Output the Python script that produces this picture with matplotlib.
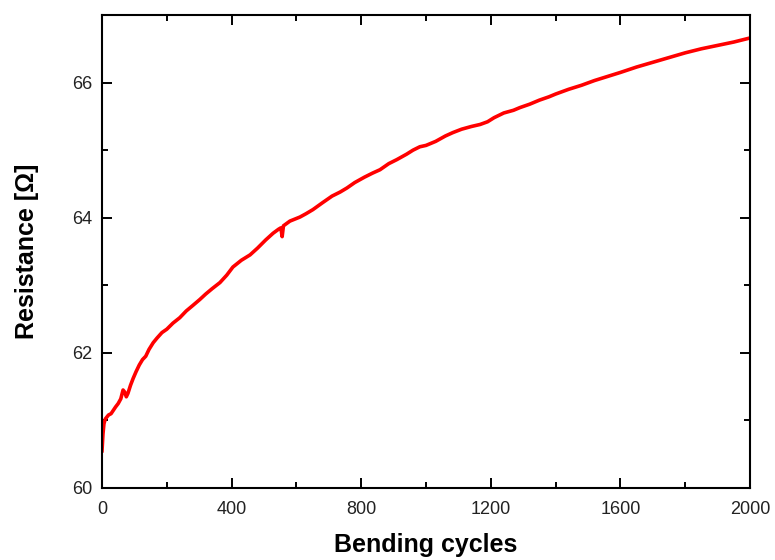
import matplotlib
matplotlib.use("Agg")
import matplotlib.pyplot as plt
from matplotlib.ticker import MultipleLocator

cycles = [0, 3, 6, 10, 15, 20, 28, 35, 42, 50, 58, 65, 70, 75, 80, 88, 96, 105, 115, 125,
          135, 145, 158, 170, 185, 200, 219, 240, 260, 280, 302, 320, 340, 364, 385, 404,
          430, 457, 480, 505, 528, 545, 552, 556, 560, 580, 611, 630, 651, 680, 710, 735,
          756, 780, 810, 835, 858, 885, 910, 940, 960, 981, 1000, 1030, 1060, 1083, 1110,
          1140, 1167, 1190, 1210, 1240, 1270, 1290, 1320, 1350, 1380, 1400, 1440, 1480,
          1520, 1560, 1600, 1650, 1700, 1750, 1800, 1850, 1900, 1950, 2000]
resistance = [60.55, 60.80, 60.95, 61.02, 61.05, 61.08, 61.10, 61.15, 61.20, 61.25, 61.32,
              61.45, 61.42, 61.35, 61.40, 61.52, 61.62, 61.72, 61.82, 61.90, 61.95, 62.05,
              62.15, 62.22, 62.30, 62.35, 62.44, 62.52, 62.62, 62.70, 62.79, 62.87, 62.95,
              63.04, 63.15, 63.27, 63.37, 63.45, 63.55, 63.67, 63.77, 63.83, 63.85, 63.72,
              63.88, 63.95, 64.01, 64.06, 64.12, 64.22, 64.32, 64.38, 64.44, 64.52, 64.60,
              64.66, 64.71, 64.80, 64.86, 64.94, 65.00, 65.05, 65.07, 65.13, 65.21, 65.26,
              65.31, 65.35, 65.38, 65.42, 65.48, 65.55, 65.59, 65.63, 65.68, 65.74, 65.79,
              65.83, 65.90, 65.96, 66.03, 66.09, 66.15, 66.23, 66.30, 66.37, 66.44, 66.50,
              66.55, 66.60, 66.66]

x_ticks = [0, 400, 800, 1200, 1600, 2000]
y_ticks = [60, 62, 64, 66]

plt.rcParams['font.family'] = ['Liberation Sans', 'DejaVu Sans']

fig = plt.figure(figsize=(7.75, 5.6), dpi=100)
ax = fig.add_axes([102/775, 1-488/560, (750-102)/775, (488-15)/560])

ax.plot(cycles, resistance, color='#ff0000', lw=2.6, solid_joinstyle='round')

ax.set_xlim(0, 2000)
ax.set_ylim(60, 67)
ax.set_xticks(x_ticks)
ax.set_yticks(y_ticks)
ax.xaxis.set_minor_locator(MultipleLocator(200))
ax.yaxis.set_minor_locator(MultipleLocator(1))
ax.tick_params(which='both', direction='in', top=True, right=True, width=1.4,
               labelsize=13, labelcolor='#222222')
ax.tick_params(axis='x', which='both', pad=9)
ax.tick_params(axis='y', which='both', pad=7)
ax.tick_params(which='major', length=7)
ax.tick_params(which='minor', length=4)
for s in ax.spines.values():
    s.set_linewidth(1.5)

ax.set_xlabel('Bending cycles', fontsize=18, fontweight='bold', labelpad=11)
ax.set_ylabel('Resistance [Ω]', fontsize=18, fontweight='bold', labelpad=24)

fig.savefig('out.png', dpi=100)
